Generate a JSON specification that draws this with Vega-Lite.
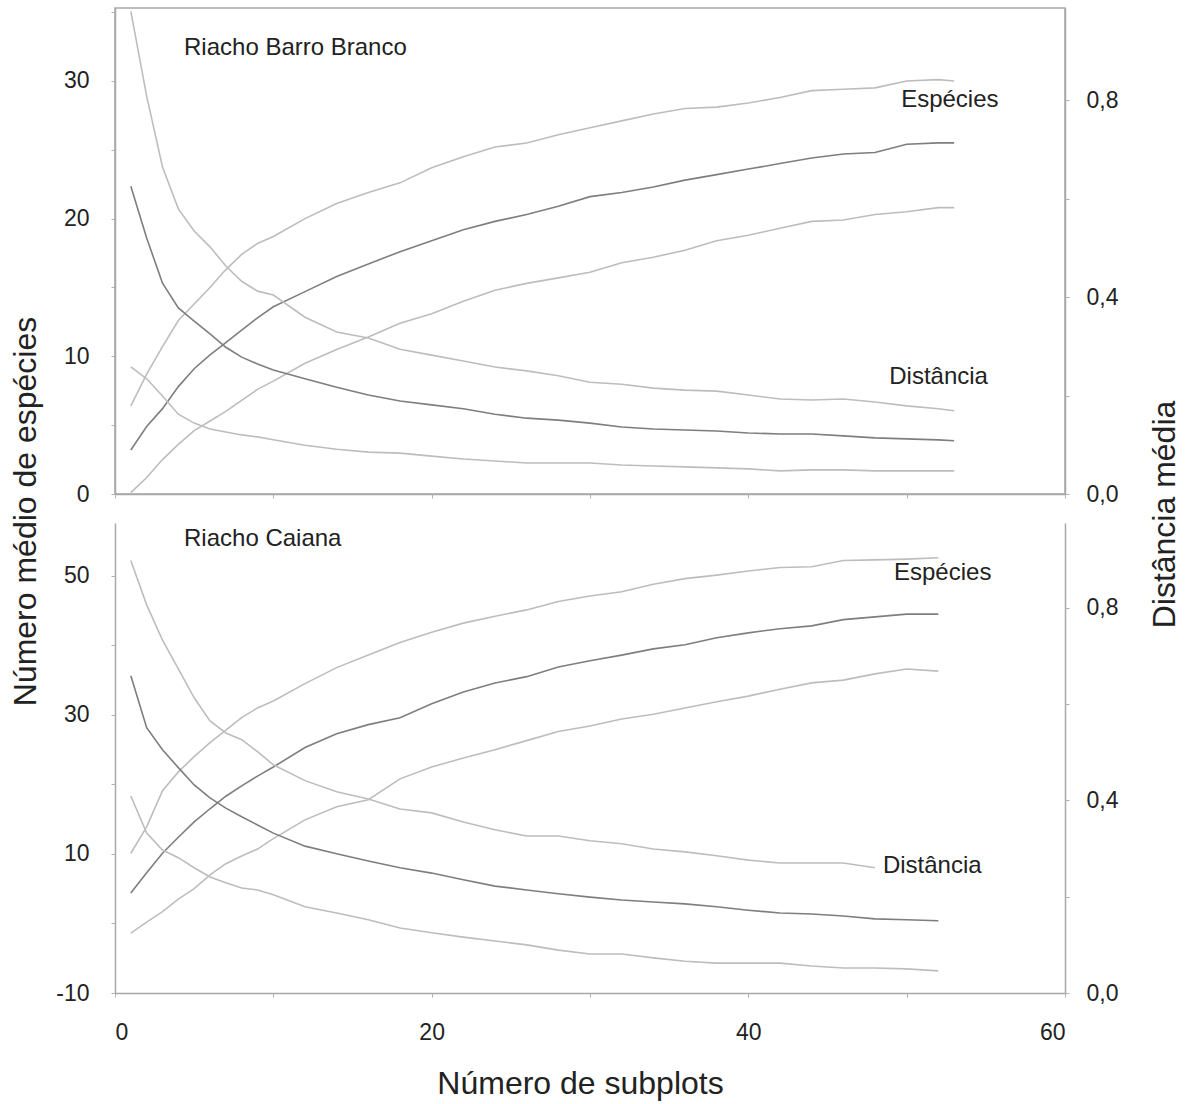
{
  "$schema": "https://vega.github.io/schema/vega-lite/v6.json",
  "padding": {"left": 8, "top": 7, "right": 5, "bottom": 5},
  "background": "white",
  "bounds": "flush",
  "spacing": 29,
  "config": {
    "font": "Liberation Sans",
    "axis": {"domainColor": "#a8a8a8", "domainWidth": 1.5, "tickColor": "#b0b0b0", "tickSize": 4, "labelFont": "Liberation Sans", "labelFontSize": 23, "labelColor": "#222222", "titleFont": "Liberation Sans", "titleFontSize": 32, "titleFontWeight": "normal", "titleColor": "#222222", "grid": false},
    "view": {"stroke": null}
  },
  "datasets": {
    "top": [
      {"x": 1, "sp_hi": 6.4, "sp_mean": 3.2, "sp_lo": 0.1, "d_hi": 0.98, "d_mean": 0.625, "d_lo": 0.258},
      {"x": 2, "sp_hi": 8.7, "sp_mean": 4.9, "sp_lo": 1.2, "d_hi": 0.808, "d_mean": 0.52, "d_lo": 0.234},
      {"x": 3, "sp_hi": 10.7, "sp_mean": 6.2, "sp_lo": 2.5, "d_hi": 0.664, "d_mean": 0.428, "d_lo": 0.199},
      {"x": 4, "sp_hi": 12.6, "sp_mean": 7.8, "sp_lo": 3.6, "d_hi": 0.579, "d_mean": 0.378, "d_lo": 0.162},
      {"x": 5, "sp_hi": 13.8, "sp_mean": 9.1, "sp_lo": 4.6, "d_hi": 0.534, "d_mean": 0.351, "d_lo": 0.144},
      {"x": 6, "sp_hi": 15.0, "sp_mean": 10.1, "sp_lo": 5.3, "d_hi": 0.502, "d_mean": 0.325, "d_lo": 0.132},
      {"x": 7, "sp_hi": 16.3, "sp_mean": 11.0, "sp_lo": 6.0, "d_hi": 0.463, "d_mean": 0.298, "d_lo": 0.126},
      {"x": 8, "sp_hi": 17.4, "sp_mean": 11.9, "sp_lo": 6.8, "d_hi": 0.432, "d_mean": 0.278, "d_lo": 0.12},
      {"x": 9, "sp_hi": 18.2, "sp_mean": 12.8, "sp_lo": 7.6, "d_hi": 0.412, "d_mean": 0.264, "d_lo": 0.116},
      {"x": 10, "sp_hi": 18.7, "sp_mean": 13.6, "sp_lo": 8.2, "d_hi": 0.404, "d_mean": 0.252, "d_lo": 0.11},
      {"x": 12, "sp_hi": 20.0, "sp_mean": 14.7, "sp_lo": 9.5, "d_hi": 0.359, "d_mean": 0.234, "d_lo": 0.099},
      {"x": 14, "sp_hi": 21.1, "sp_mean": 15.8, "sp_lo": 10.5, "d_hi": 0.329, "d_mean": 0.217, "d_lo": 0.091},
      {"x": 16, "sp_hi": 21.9, "sp_mean": 16.7, "sp_lo": 11.4, "d_hi": 0.317, "d_mean": 0.201, "d_lo": 0.085},
      {"x": 18, "sp_hi": 22.6, "sp_mean": 17.6, "sp_lo": 12.4, "d_hi": 0.294, "d_mean": 0.189, "d_lo": 0.083},
      {"x": 20, "sp_hi": 23.7, "sp_mean": 18.4, "sp_lo": 13.1, "d_hi": 0.282, "d_mean": 0.181, "d_lo": 0.077},
      {"x": 22, "sp_hi": 24.5, "sp_mean": 19.2, "sp_lo": 14.0, "d_hi": 0.27, "d_mean": 0.173, "d_lo": 0.071},
      {"x": 24, "sp_hi": 25.2, "sp_mean": 19.8, "sp_lo": 14.8, "d_hi": 0.258, "d_mean": 0.162, "d_lo": 0.067},
      {"x": 26, "sp_hi": 25.5, "sp_mean": 20.3, "sp_lo": 15.3, "d_hi": 0.25, "d_mean": 0.154, "d_lo": 0.063},
      {"x": 28, "sp_hi": 26.1, "sp_mean": 20.9, "sp_lo": 15.7, "d_hi": 0.24, "d_mean": 0.15, "d_lo": 0.063},
      {"x": 30, "sp_hi": 26.6, "sp_mean": 21.6, "sp_lo": 16.1, "d_hi": 0.227, "d_mean": 0.144, "d_lo": 0.063},
      {"x": 32, "sp_hi": 27.1, "sp_mean": 21.9, "sp_lo": 16.8, "d_hi": 0.223, "d_mean": 0.136, "d_lo": 0.059},
      {"x": 34, "sp_hi": 27.6, "sp_mean": 22.3, "sp_lo": 17.2, "d_hi": 0.215, "d_mean": 0.132, "d_lo": 0.057},
      {"x": 36, "sp_hi": 28.0, "sp_mean": 22.8, "sp_lo": 17.7, "d_hi": 0.211, "d_mean": 0.13, "d_lo": 0.055},
      {"x": 38, "sp_hi": 28.1, "sp_mean": 23.2, "sp_lo": 18.4, "d_hi": 0.209, "d_mean": 0.128, "d_lo": 0.053},
      {"x": 40, "sp_hi": 28.4, "sp_mean": 23.6, "sp_lo": 18.8, "d_hi": 0.201, "d_mean": 0.124, "d_lo": 0.051},
      {"x": 42, "sp_hi": 28.8, "sp_mean": 24.0, "sp_lo": 19.3, "d_hi": 0.193, "d_mean": 0.122, "d_lo": 0.047},
      {"x": 44, "sp_hi": 29.3, "sp_mean": 24.4, "sp_lo": 19.8, "d_hi": 0.191, "d_mean": 0.122, "d_lo": 0.049},
      {"x": 46, "sp_hi": 29.4, "sp_mean": 24.7, "sp_lo": 19.9, "d_hi": 0.193, "d_mean": 0.118, "d_lo": 0.049},
      {"x": 48, "sp_hi": 29.5, "sp_mean": 24.8, "sp_lo": 20.3, "d_hi": 0.187, "d_mean": 0.114, "d_lo": 0.047},
      {"x": 50, "sp_hi": 30.0, "sp_mean": 25.4, "sp_lo": 20.5, "d_hi": 0.179, "d_mean": 0.112, "d_lo": 0.047},
      {"x": 52, "sp_hi": 30.1, "sp_mean": 25.5, "sp_lo": 20.8, "d_hi": 0.173, "d_mean": 0.11, "d_lo": 0.047},
      {"x": 53, "sp_hi": 30.0, "sp_mean": 25.5, "sp_lo": 20.8, "d_hi": 0.169, "d_mean": 0.108, "d_lo": 0.047}
    ],
    "bottom": [
      {"x": 1, "sp_hi": 10.1, "sp_mean": 4.4, "sp_lo": -1.4, "d_hi": 0.898, "d_mean": 0.659, "d_lo": 0.409},
      {"x": 2, "sp_hi": 13.9, "sp_mean": 7.3, "sp_lo": 0.2, "d_hi": 0.806, "d_mean": 0.551, "d_lo": 0.332},
      {"x": 3, "sp_hi": 19.1, "sp_mean": 10.1, "sp_lo": 1.7, "d_hi": 0.733, "d_mean": 0.505, "d_lo": 0.297},
      {"x": 4, "sp_hi": 21.8, "sp_mean": 12.4, "sp_lo": 3.5, "d_hi": 0.673, "d_mean": 0.468, "d_lo": 0.281},
      {"x": 5, "sp_hi": 24.0, "sp_mean": 14.6, "sp_lo": 5.0, "d_hi": 0.613, "d_mean": 0.432, "d_lo": 0.26},
      {"x": 6, "sp_hi": 26.0, "sp_mean": 16.5, "sp_lo": 7.0, "d_hi": 0.565, "d_mean": 0.405, "d_lo": 0.241},
      {"x": 7, "sp_hi": 27.8, "sp_mean": 18.3, "sp_lo": 8.6, "d_hi": 0.54, "d_mean": 0.384, "d_lo": 0.229},
      {"x": 8, "sp_hi": 29.6, "sp_mean": 19.8, "sp_lo": 9.7, "d_hi": 0.526, "d_mean": 0.366, "d_lo": 0.218},
      {"x": 9, "sp_hi": 31.0, "sp_mean": 21.2, "sp_lo": 10.7, "d_hi": 0.501, "d_mean": 0.349, "d_lo": 0.214},
      {"x": 10, "sp_hi": 32.0, "sp_mean": 22.5, "sp_lo": 12.2, "d_hi": 0.474, "d_mean": 0.332, "d_lo": 0.204},
      {"x": 12, "sp_hi": 34.5, "sp_mean": 25.3, "sp_lo": 14.9, "d_hi": 0.441, "d_mean": 0.305, "d_lo": 0.179},
      {"x": 14, "sp_hi": 36.8, "sp_mean": 27.3, "sp_lo": 16.8, "d_hi": 0.418, "d_mean": 0.289, "d_lo": 0.166},
      {"x": 16, "sp_hi": 38.6, "sp_mean": 28.6, "sp_lo": 17.8, "d_hi": 0.403, "d_mean": 0.274, "d_lo": 0.152},
      {"x": 18, "sp_hi": 40.4, "sp_mean": 29.6, "sp_lo": 20.8, "d_hi": 0.382, "d_mean": 0.26, "d_lo": 0.135},
      {"x": 20, "sp_hi": 41.9, "sp_mean": 31.6, "sp_lo": 22.5, "d_hi": 0.374, "d_mean": 0.249, "d_lo": 0.125},
      {"x": 22, "sp_hi": 43.2, "sp_mean": 33.3, "sp_lo": 23.8, "d_hi": 0.355, "d_mean": 0.235, "d_lo": 0.116},
      {"x": 24, "sp_hi": 44.2, "sp_mean": 34.6, "sp_lo": 25.0, "d_hi": 0.339, "d_mean": 0.222, "d_lo": 0.108},
      {"x": 26, "sp_hi": 45.1, "sp_mean": 35.5, "sp_lo": 26.3, "d_hi": 0.326, "d_mean": 0.214, "d_lo": 0.1},
      {"x": 28, "sp_hi": 46.3, "sp_mean": 36.9, "sp_lo": 27.6, "d_hi": 0.326, "d_mean": 0.206, "d_lo": 0.089},
      {"x": 30, "sp_hi": 47.1, "sp_mean": 37.8, "sp_lo": 28.4, "d_hi": 0.316, "d_mean": 0.199, "d_lo": 0.081},
      {"x": 32, "sp_hi": 47.7, "sp_mean": 38.6, "sp_lo": 29.4, "d_hi": 0.31, "d_mean": 0.193, "d_lo": 0.081},
      {"x": 34, "sp_hi": 48.8, "sp_mean": 39.5, "sp_lo": 30.1, "d_hi": 0.299, "d_mean": 0.189, "d_lo": 0.073},
      {"x": 36, "sp_hi": 49.6, "sp_mean": 40.1, "sp_lo": 31.0, "d_hi": 0.293, "d_mean": 0.185, "d_lo": 0.066},
      {"x": 38, "sp_hi": 50.1, "sp_mean": 41.1, "sp_lo": 31.9, "d_hi": 0.285, "d_mean": 0.179, "d_lo": 0.062},
      {"x": 40, "sp_hi": 50.7, "sp_mean": 41.8, "sp_lo": 32.7, "d_hi": 0.276, "d_mean": 0.172, "d_lo": 0.062},
      {"x": 42, "sp_hi": 51.2, "sp_mean": 42.4, "sp_lo": 33.7, "d_hi": 0.27, "d_mean": 0.166, "d_lo": 0.062},
      {"x": 44, "sp_hi": 51.3, "sp_mean": 42.8, "sp_lo": 34.6, "d_hi": 0.27, "d_mean": 0.164, "d_lo": 0.056},
      {"x": 46, "sp_hi": 52.2, "sp_mean": 43.7, "sp_lo": 35.0, "d_hi": 0.27, "d_mean": 0.16, "d_lo": 0.052},
      {"x": 48, "sp_hi": 52.3, "sp_mean": 44.1, "sp_lo": 35.9, "d_hi": 0.26, "d_mean": 0.154, "d_lo": 0.052},
      {"x": 50, "sp_hi": 52.4, "sp_mean": 44.5, "sp_lo": 36.6, "d_hi": null, "d_mean": 0.152, "d_lo": 0.05},
      {"x": 52, "sp_hi": 52.6, "sp_mean": 44.5, "sp_lo": 36.3, "d_hi": null, "d_mean": 0.15, "d_lo": 0.046}
    ]
  },
  "vconcat": [
    {
      "width": 950,
      "height": 486,
      "view": {"stroke": "#a8a8a8", "strokeWidth": 1.5},
      "encoding": {
        "x": {"field": "x", "type": "quantitative", "scale": {"domain": [0, 60], "nice": false, "zero": false},
          "axis": {"values": [0, 10, 20, 30, 40, 50, 60], "labels": false, "title": null}}
      },
      "layer": [
        {
          "data": {"name": "top"},
          "transform": [{"fold": ["sp_hi", "sp_mean", "sp_lo"], "as": ["curve", "v"]}],
          "mark": {"type": "line", "strokeWidth": 1.6},
          "encoding": {
            "y": {"field": "v", "type": "quantitative", "scale": {"domain": [0, 35.3], "nice": false, "zero": false},
              "axis": {"orient": "left", "values": [0, 5, 10, 15, 20, 25, 30, 35], "labelExpr": "datum.value % 10 == 0 ? toString(datum.value) : ''", "labelPadding": 22,
                "title": "Número médio de espécies", "titleX": -90, "titleY": 503, "titleAngle": 270, "titleAlign": "center", "titleBaseline": "middle"}},
            "color": {"field": "curve", "type": "nominal", "legend": null,
              "scale": {"domain": ["sp_hi", "sp_mean", "sp_lo", "d_hi", "d_mean", "d_lo"], "range": ["#bdbdbd", "#7e7e7e", "#bdbdbd", "#bdbdbd", "#7e7e7e", "#bdbdbd"]}}
          }
        },
        {
          "data": {"name": "top"},
          "transform": [{"fold": ["d_hi", "d_mean", "d_lo"], "as": ["curve", "v"]}],
          "mark": {"type": "line", "strokeWidth": 1.6},
          "encoding": {
            "y": {"field": "v", "type": "quantitative", "scale": {"domain": [0, 0.987], "nice": false, "zero": false},
              "axis": {"orient": "right", "values": [0, 0.2, 0.4, 0.6, 0.8], "labelExpr": "datum.value == 0 || datum.value == 0.4 || datum.value == 0.8 ? replace(format(datum.value, '.1f'), '.', ',') : ''", "labelPadding": 17,
                "title": "Distância média", "titleX": 99, "titleY": 506, "titleAngle": 270, "titleAlign": "center", "titleBaseline": "middle"}},
            "color": {"field": "curve", "type": "nominal", "legend": null,
              "scale": {"domain": ["sp_hi", "sp_mean", "sp_lo", "d_hi", "d_mean", "d_lo"], "range": ["#bdbdbd", "#7e7e7e", "#bdbdbd", "#bdbdbd", "#7e7e7e", "#bdbdbd"]}}
          }
        },
        {
          "data": {"values": [
            {"x": 4.36, "y": 32.4, "label": "Riacho Barro Branco"},
            {"x": 49.65, "y": 28.6, "label": "Espécies"},
            {"x": 48.9, "y": 8.5, "label": "Distância"}
          ]},
          "mark": {"type": "text", "align": "left", "baseline": "middle", "fontSize": 24, "font": "Liberation Sans", "color": "#222222"},
          "encoding": {
            "y": {"field": "y", "type": "quantitative", "scale": {"domain": [0, 35.3], "nice": false, "zero": false}, "axis": null},
            "text": {"field": "label"}
          }
        }
      ],
      "resolve": {"scale": {"y": "independent", "color": "shared"}, "axis": {"y": "independent"}}
    },
    {
      "width": 950,
      "height": 470,
      "encoding": {
        "x": {"field": "x", "type": "quantitative", "scale": {"domain": [0, 60], "nice": false, "zero": false},
          "axis": {"values": [0, 10, 20, 30, 40, 50, 60], "labelExpr": "datum.value % 20 == 0 ? toString(datum.value) : ''", "labelPadding": 24,
            "title": "Número de subplots", "titleX": 465, "titleY": 90, "titleAlign": "center", "titleBaseline": "middle"}}
      },
      "layer": [
        {
          "data": {"name": "bottom"},
          "transform": [{"fold": ["sp_hi", "sp_mean", "sp_lo"], "as": ["curve", "v"]}],
          "mark": {"type": "line", "strokeWidth": 1.6},
          "encoding": {
            "y": {"field": "v", "type": "quantitative", "scale": {"domain": [-10, 57.6], "nice": false, "zero": false},
              "axis": {"orient": "left", "values": [-10, 0, 10, 20, 30, 40, 50], "labelExpr": "(datum.value + 10) % 20 == 0 ? toString(datum.value) : ''", "labelPadding": 22, "title": null}},
            "color": {"field": "curve", "type": "nominal", "legend": null,
              "scale": {"domain": ["sp_hi", "sp_mean", "sp_lo", "d_hi", "d_mean", "d_lo"], "range": ["#bdbdbd", "#7e7e7e", "#bdbdbd", "#bdbdbd", "#7e7e7e", "#bdbdbd"]}}
          }
        },
        {
          "data": {"name": "bottom"},
          "transform": [{"fold": ["d_hi", "d_mean", "d_lo"], "as": ["curve", "v"]}],
          "mark": {"type": "line", "strokeWidth": 1.6},
          "encoding": {
            "y": {"field": "v", "type": "quantitative", "scale": {"domain": [0, 0.976], "nice": false, "zero": false},
              "axis": {"orient": "right", "values": [0, 0.2, 0.4, 0.6, 0.8], "labelExpr": "datum.value == 0 || datum.value == 0.4 || datum.value == 0.8 ? replace(format(datum.value, '.1f'), '.', ',') : ''", "labelPadding": 17, "title": null}},
            "color": {"field": "curve", "type": "nominal", "legend": null,
              "scale": {"domain": ["sp_hi", "sp_mean", "sp_lo", "d_hi", "d_mean", "d_lo"], "range": ["#bdbdbd", "#7e7e7e", "#bdbdbd", "#bdbdbd", "#7e7e7e", "#bdbdbd"]}}
          }
        },
        {
          "data": {"values": [
            {"x": 4.36, "y": 55.3, "label": "Riacho Caiana"},
            {"x": 49.2, "y": 50.4, "label": "Espécies"},
            {"x": 48.5, "y": 8.3, "label": "Distância"}
          ]},
          "mark": {"type": "text", "align": "left", "baseline": "middle", "fontSize": 24, "font": "Liberation Sans", "color": "#222222"},
          "encoding": {
            "y": {"field": "y", "type": "quantitative", "scale": {"domain": [-10, 57.6], "nice": false, "zero": false}, "axis": null},
            "text": {"field": "label"}
          }
        }
      ],
      "resolve": {"scale": {"y": "independent", "color": "shared"}, "axis": {"y": "independent"}}
    }
  ]
}
